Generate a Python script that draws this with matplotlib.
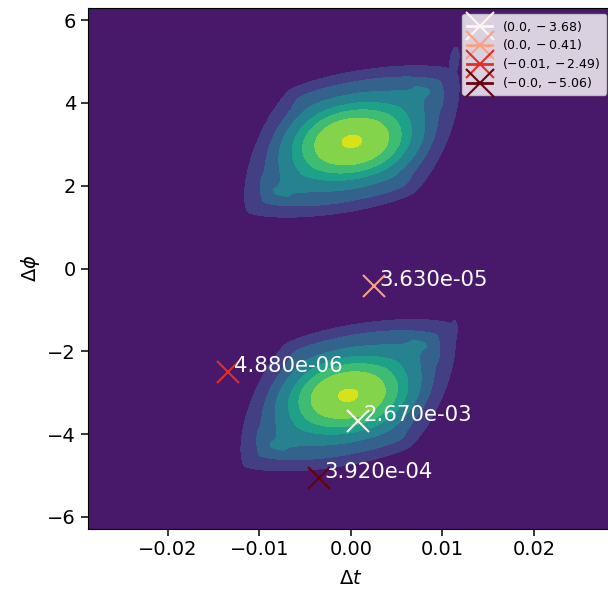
import numpy as np
import matplotlib.pyplot as plt

# blob centres and scales (t, phi)
blob_t = [0.0001, -0.0003]
blob_phi = [3.07, -3.06]
blob_a = [0.0119, 0.0119]
blob_b_inner = [1.65, 1.65]
blob_b_outer = [1.99, 1.99]
# ring radii read along the t axis (outer edge of each level, top level first)
ring_r = [0.0, 0.078, 0.33, 0.44, 0.53, 0.64, 0.74, 0.87, 1.0]
ring_level = [1.0, 0.875, 0.75, 0.625, 0.5, 0.375, 0.25, 0.125, 0.0]
# tilt of the rings: cross term at the centre and at the outer edge
tilt_inner = 0.25
tilt_outer = 0.5
# lens shape of the outermost contour: angle (deg), long / short half axes, exponent
lens_angle = 42
lens_long = 1.474
lens_short = 0.971
lens_p = 1.35

# thin spurs at the upper-right tips
spur_t = [0.0113, 0.0111]
spur_phi = [5.0, -1.6]
spur_wt = [0.0005, 0.0005]
spur_wphi = [0.35, 0.35]

# marked points
pt_t = [0.0008, 0.0025, -0.0134, -0.0035]
pt_phi = [-3.68, -0.41, -2.49, -5.06]
pt_labels = ['$(0.0, -3.68)$', '$(0.0, -0.41)$', '$(-0.01, -2.49)$', '$(-0.0, -5.06)$']
pt_values = ['2.670e-03', '3.630e-05', '4.880e-06', '3.920e-04']

tt = np.linspace(-0.02875, 0.02875, 600)
pp = np.linspace(-2 * np.pi, 2 * np.pi, 600)
T, P = np.meshgrid(tt, pp)

th = np.deg2rad(lens_angle)
Z = np.zeros_like(T)
for t0, p0, a, bi, bo in zip(blob_t, blob_phi, blob_a, blob_b_inner, blob_b_outer):
    u = (T - t0) / a
    vi = (P - p0) / bi
    v = (P - p0) / bo
    r0 = np.sqrt(u ** 2 + vi ** 2)
    c = tilt_inner + (tilt_outer - tilt_inner) * np.clip(r0 / 0.87, 0, 1)
    r_in = np.sqrt(np.clip(u ** 2 + vi ** 2 - c * u * vi, 0, None))
    d1 = u * np.cos(th) + v * np.sin(th)
    d2 = -u * np.sin(th) + v * np.cos(th)
    r_out = ((np.abs(d1) / lens_long) ** lens_p + (np.abs(d2) / lens_short) ** lens_p) ** (1 / lens_p)
    w = np.clip(r_in / 0.87, 0, 1) ** 3
    r = (1 - w) * r_in + w * r_out
    Z = np.maximum(Z, np.interp(r, ring_r, ring_level))
for ts, ps, wt, wp in zip(spur_t, spur_phi, spur_wt, spur_wphi):
    u = (T - ts - 0.0006 * (P - ps)) / wt
    v = (P - ps) / wp
    Z = np.maximum(Z, 0.2 * np.exp(-0.5 * (u ** 2 + v ** 2)))

fig = plt.figure(figsize=(6.08, 5.9), dpi=100)
ax = fig.add_axes([0.1447, 0.104, 0.865, 0.8817])
ax.contourf(T, P, Z, levels=np.linspace(0, Z.max(), 9), cmap='viridis')

colors = plt.cm.Reds(np.linspace(0, 1, 4))
for t, p, lab, val, c in zip(pt_t, pt_phi, pt_labels, pt_values, colors):
    ax.plot([t], [p], marker='x', ms=16, mew=1.5, lw=2, color=c, label=lab)
    ax.text(t + 0.0006, p, val, color='white', fontsize=15.3)

ax.set_xlim(-0.02875, 0.02875)
ax.set_ylim(-2 * np.pi, 2 * np.pi)
ax.set_xticks([-0.02, -0.01, 0.0, 0.01, 0.02])
ax.set_yticks([-6, -4, -2, 0, 2, 4, 6])
ax.tick_params(labelsize=14, length=5, width=1.1)
ax.set_xlabel(r'$\Delta t$', fontsize=14, labelpad=7)
ax.set_ylabel(r'$\Delta\phi$', fontsize=14)
ax.legend(loc='upper right', fontsize=9, markerscale=1.25, labelspacing=0.3,
          bbox_to_anchor=(0.997, 1.002))

plt.savefig('out.png', dpi=100)
